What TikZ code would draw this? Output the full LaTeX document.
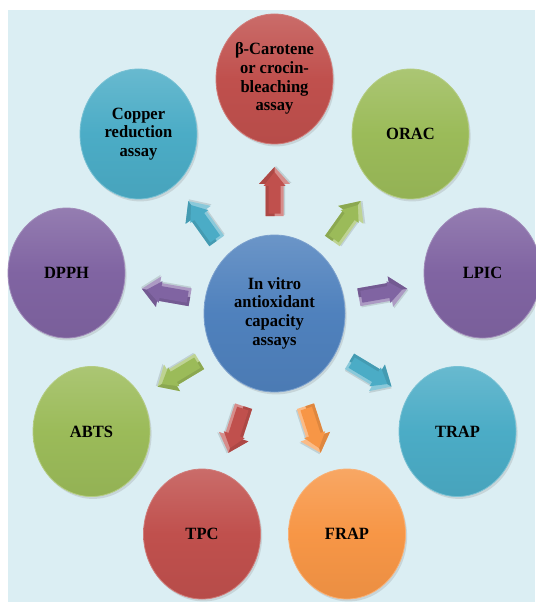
\documentclass[tikz,border=0pt]{standalone}
\usepackage{fontspec}
\newfontfamily\lblfont[FakeStretch=0.96]{Liberation Serif}
\usetikzlibrary{shapes.geometric,shadows}
\definecolor{bgBlue}{HTML}{DBEEF3}
\definecolor{cRed}{HTML}{C0504D}
\definecolor{cCyan}{HTML}{4BACC6}
\definecolor{cGreen}{HTML}{9BBB59}
\definecolor{cPurple}{HTML}{8064A2}
\definecolor{cBlue}{HTML}{4F81BD}
\definecolor{cOrange}{HTML}{F79646}
\newcommand\lbl{\lblfont\bfseries\fontsize{12.9}{14}\selectfont}
\newcommand\lines[1]{\raisebox{-1.5pt}{\begin{tabular}{@{}c@{}}#1\end{tabular}}}
\tikzset{
  assay/.style={ellipse, minimum width=87.75pt, minimum height=97.5pt, inner sep=0pt,
    align=center, font=\lbl, text=black, draw=#1!75!white, line width=0.6pt,
    top color=#1!84!white, bottom color=#1!95!black, middle color=#1,
    drop shadow={opacity=0.22, shadow xshift=1.2pt, shadow yshift=-1.8pt}},
  hubnode/.style={assay=#1, minimum width=105.75pt, minimum height=117.75pt}
}
% block arrow: x, y, angle, colour
\newcommand\BlockArr[4]{%
  \begin{scope}[shift={(#1,#2)}, rotate=#3]
    \fill[black, opacity=0.12] (-23.5,10.5) -- (8.5,10.5) -- (8.5,17) -- (25.5,1.5) -- (8.5,-14) -- (8.5,-7.5) -- (-23.5,-7.5) -- cycle;
    \fill[#4!65!white] (-24.5,9) -- (7.5,9) -- (7.5,15.5) -- (24.5,0) -- (7.5,-15.5) -- (7.5,-9) -- (-24.5,-9) -- cycle;
    \fill[#4!90!black] (-24.5,0) -- (24.5,0) -- (7.5,-15.5) -- (7.5,-9) -- (-24.5,-9) -- cycle;
    \fill[#4] (-22,6) -- (5.5,6) -- (5.5,11) -- (19.5,0) -- (5.5,-11) -- (5.5,-6) -- (-22,-6) -- cycle;
  \end{scope}}
\begin{document}
\begin{tikzpicture}[x=0.75pt, y=-0.75pt]
  \useasboundingbox (0,0) rectangle (535,602);
  \fill[white] (0,0) rectangle (535,602);
  \fill[bgBlue] (8,10) rectangle (535,602);

  % arrows
  \BlockArr{274.5}{191.5}{90}{cRed}
  \BlockArr{202.5}{221}{125.4}{cCyan}
  \BlockArr{346.5}{221}{54.6}{cGreen}
  \BlockArr{166}{293}{170}{cPurple}
  \BlockArr{383}{293}{10}{cPurple}
  \BlockArr{178.5}{374}{211}{cGreen}
  \BlockArr{370.5}{374}{329}{cCyan}
  \BlockArr{236}{429.5}{252}{cRed}
  \BlockArr{313}{429.5}{288}{cOrange}

  % circles
  \node[hubnode=cBlue] (hub) at (274.5,313.5) {\lines{In vitro\\antioxidant\\capacity\\assays}};
  \node[assay=cRed] (carot) at (274.5,79) {\lines{β-Carotene\\or crocin-\\bleaching\\assay}};
  \node[assay=cCyan] (copper) at (138.5,134) {\lines{Copper\\reduction\\assay}};
  \node[assay=cGreen] (orac) at (410.5,134) {ORAC};
  \node[assay=cPurple] (dpph) at (66.5,273) {DPPH};
  \node[assay=cPurple] (lpic) at (482.5,273) {LPIC};
  \node[assay=cGreen] (abts) at (91.5,431.5) {ABTS};
  \node[assay=cCyan] (trap) at (457.5,431.5) {TRAP};
  \node[assay=cRed] (tpc) at (202,534) {TPC};
  \node[assay=cOrange] (frap) at (347,534) {FRAP};
\end{tikzpicture}
\end{document}
